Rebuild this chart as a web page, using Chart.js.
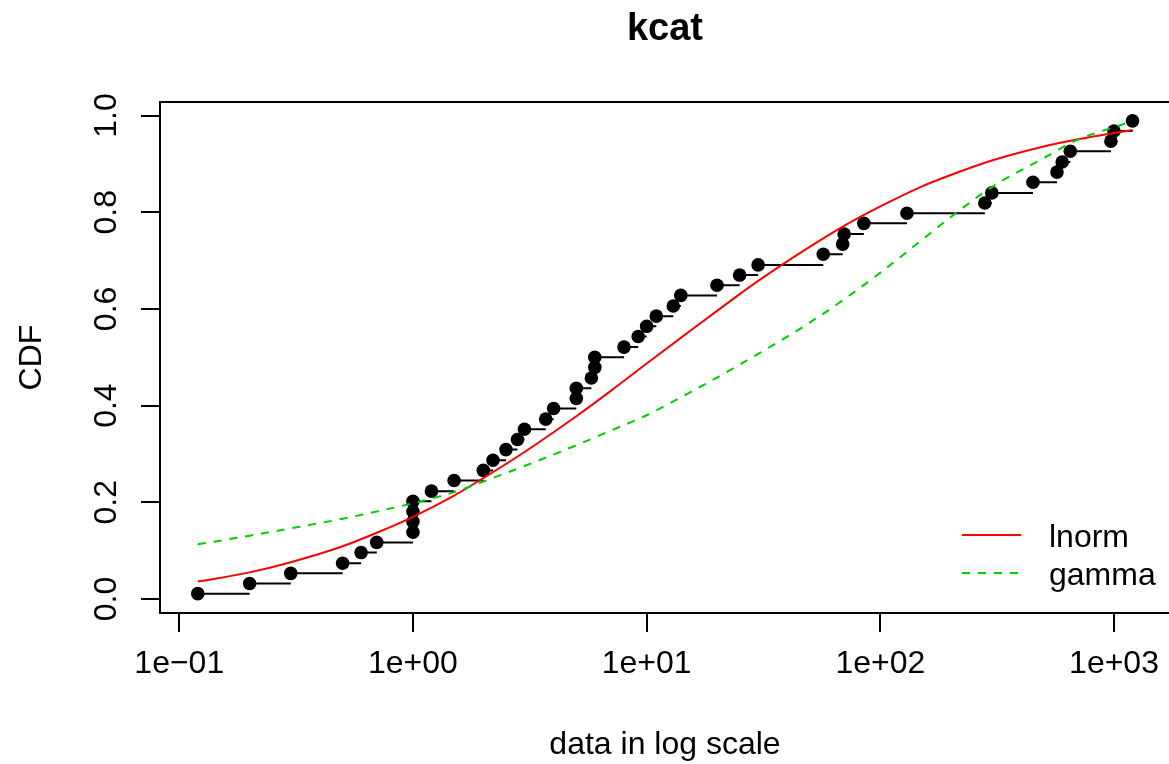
<!DOCTYPE html>
<html>
<head>
<meta charset="utf-8">
<script src="https://cdn.jsdelivr.net/npm/chart.js@4/dist/chart.umd.min.js"></script>
<style>
  html, body { margin: 0; padding: 0; background: #fff; overflow: hidden; }
  canvas { display: block; }
</style>
</head>
<body>
<!-- a little wider than the window: the right side of the box falls just off the picture, as in R -->
<canvas id="cdfChart" width="1171" height="764"></canvas>
<script>
// empirical points (sorted data, plotting positions)
const xValues = [0.12, 0.2, 0.3, 0.5, 0.6, 0.7, 1, 1, 1, 1, 1.2, 1.5, 2, 2.2, 2.5, 2.8, 3, 3.7, 4, 5,
    5, 5.8, 6, 6, 8, 9.2, 10, 11, 13, 14, 20, 25, 30, 57, 69, 70, 85, 130, 280, 300,
    450, 570, 600, 650, 970, 1000, 1200];
const yValues = [0.011, 0.032, 0.053, 0.074, 0.096, 0.117, 0.138, 0.160, 0.181, 0.202, 0.223, 0.245,
    0.266, 0.287, 0.309, 0.330, 0.351, 0.372, 0.394, 0.415, 0.436, 0.457, 0.479, 0.500,
    0.521, 0.543, 0.564, 0.585, 0.606, 0.628, 0.649, 0.670, 0.691, 0.713, 0.734, 0.755,
    0.777, 0.798, 0.819, 0.840, 0.862, 0.883, 0.904, 0.926, 0.947, 0.968, 0.989];

// fitted curves
const curveX = [0.12, 0.2, 0.3, 0.5, 0.7, 1, 1.5, 2, 3, 5, 7, 10, 15, 20, 30, 50, 70, 100, 150, 200,
    300, 500, 700, 1000, 1200];
const lnormY = [0.036, 0.055, 0.076, 0.109, 0.137, 0.170, 0.214, 0.250, 0.304, 0.378, 0.430, 0.487,
    0.551, 0.596, 0.658, 0.729, 0.772, 0.812, 0.853, 0.877, 0.907, 0.936, 0.951, 0.964, 0.970];
const gammaY = [0.113, 0.131, 0.146, 0.166, 0.181, 0.198, 0.221, 0.243, 0.275, 0.318, 0.348, 0.380,
    0.425, 0.458, 0.507, 0.572, 0.620, 0.675, 0.742, 0.790, 0.852, 0.912, 0.950, 0.976, 0.988];

const xTicks = [0.1, 1, 10, 100, 1000];
const xTickLabels = ["1e\u221201", "1e+00", "1e+01", "1e+02", "1e+03"];
const yTicks = [0, 0.2, 0.4, 0.6, 0.8, 1];
const yTickLabels = ["0.0", "0.2", "0.4", "0.6", "0.8", "1.0"];

const seriesNames = ["lnorm", "gamma"];
const FONT = "'Liberation Sans', Arial, Helvetica, sans-serif";

const points = xValues.map((x, i) => ({ x: x, y: yValues[i] }));
const steps = [];
for (let i = 0; i < xValues.length - 1; i++) {
    steps.push({ x: xValues[i], y: yValues[i] });
    steps.push({ x: xValues[i + 1], y: yValues[i] });
    steps.push({ x: xValues[i + 1], y: null });
}

const textPlugin = {
    id: "textPlugin",
    afterDraw(chart) {
        const ctx = chart.ctx;
        const area = chart.chartArea;
        const xs = chart.scales.x;
        const ys = chart.scales.y;
        const midX = (area.left + area.right) / 2;
        ctx.save();

        // top of box
        ctx.strokeStyle = "#000";
        ctx.lineWidth = 2;
        ctx.beginPath();
        ctx.moveTo(area.left - 1, area.top);
        ctx.lineTo(area.right, area.top);
        ctx.stroke();

        ctx.fillStyle = "#000";
        ctx.font = "32px " + FONT;
        ctx.textAlign = "center";
        ctx.textBaseline = "alphabetic";

        xTicks.forEach((v, i) => {
            ctx.fillText(xTickLabels[i], xs.getPixelForValue(v), 673);
        });
        yTicks.forEach((v, i) => {
            ctx.save();
            ctx.translate(116, ys.getPixelForValue(v));
            ctx.rotate(-Math.PI / 2);
            ctx.fillText(yTickLabels[i], 0, 0);
            ctx.restore();
        });

        // axis titles
        ctx.fillText("data in log scale", midX, 754);
        ctx.save();
        ctx.translate(41, (area.top + area.bottom) / 2);
        ctx.rotate(-Math.PI / 2);
        ctx.fillText("CDF", 0, 0);
        ctx.restore();

        ctx.font = "bold 38px " + FONT;
        ctx.fillText("kcat", midX, 40);

        // legend
        const legendRows = [
            { label: seriesNames[0], color: "#FF0000", dash: [], y: 535 },
            { label: seriesNames[1], color: "#00CD00", dash: [8, 8], y: 573 },
        ];
        ctx.font = "32px " + FONT;
        ctx.textAlign = "left";
        legendRows.forEach((row) => {
            ctx.strokeStyle = row.color;
            ctx.lineWidth = 2;
            ctx.setLineDash(row.dash);
            ctx.beginPath();
            ctx.moveTo(962, row.y);
            ctx.lineTo(1021, row.y);
            ctx.stroke();
            ctx.setLineDash([]);
            ctx.fillText(row.label, 1049, row.y + 12);
        });

        ctx.restore();
    },
};

new Chart(document.getElementById("cdfChart").getContext("2d"), {
    data: {
        datasets: [
            {
                type: "line",
                label: seriesNames[1],
                data: curveX.map((x, i) => ({ x: x, y: gammaY[i] })),
                borderColor: "#00CD00",
                borderWidth: 2,
                borderDash: [8, 8],
                pointRadius: 0,
                cubicInterpolationMode: "monotone",
                fill: false,
            },
            {
                type: "line",
                label: seriesNames[0],
                data: curveX.map((x, i) => ({ x: x, y: lnormY[i] })),
                borderColor: "#FF0000",
                borderWidth: 2,
                pointRadius: 0,
                cubicInterpolationMode: "monotone",
                fill: false,
            },
            {
                type: "scatter",
                label: "data",
                data: points,
                backgroundColor: "#000",
                borderWidth: 0,
                pointRadius: 6.8,
            },
            {
                type: "line",
                label: "steps",
                data: steps,
                borderColor: "#000",
                borderWidth: 2,
                pointRadius: 0,
                spanGaps: false,
                fill: false,
            },
        ],
    },
    options: {
        responsive: false,
        animation: false,
        devicePixelRatio: 1,
        layout: { autoPadding: false, padding: { top: 102, left: 0, right: 1, bottom: 0 } },
        plugins: {
            legend: { display: false },
            title: { display: false },
            tooltip: { enabled: false },
        },
        scales: {
            x: {
                type: "logarithmic",
                min: 0.0827,
                max: 1736,
                afterBuildTicks: (scale) => { scale.ticks = xTicks.map((v) => ({ value: v })); },
                afterFit: (scale) => { scale.height = 151; },
                ticks: { display: false },
                grid: { drawOnChartArea: false, drawTicks: true, tickLength: 19, color: "#000", lineWidth: 2 },
                border: { display: true, color: "#000", width: 2 },
            },
            y: {
                type: "linear",
                min: -0.029,
                max: 1.028,
                afterBuildTicks: (scale) => { scale.ticks = yTicks.map((v) => ({ value: v })); },
                afterFit: (scale) => { scale.width = 160; },
                ticks: { display: false },
                grid: { drawOnChartArea: false, drawTicks: true, tickLength: 19, color: "#000", lineWidth: 2 },
                border: { display: true, color: "#000", width: 2 },
            },
        },
    },
    plugins: [textPlugin],
});
</script>
</body>
</html>
